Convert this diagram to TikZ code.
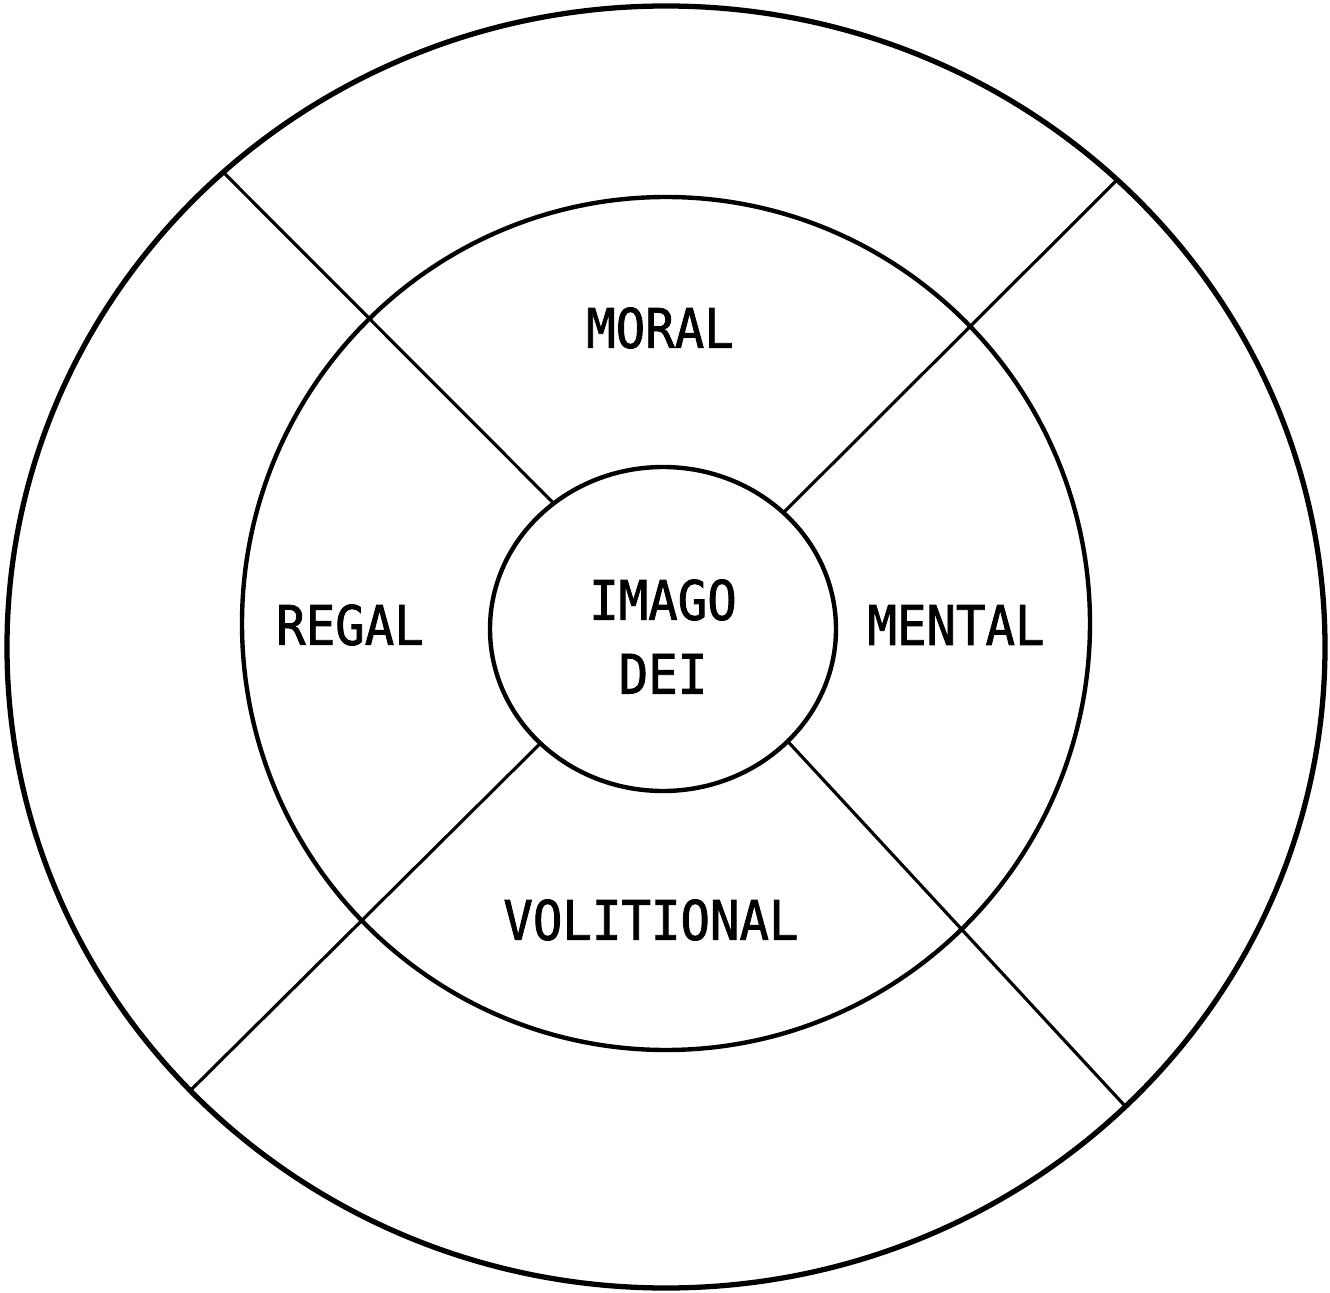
\documentclass[tikz,border=0pt]{standalone}
\usepackage{fontspec}
\setmonofont{DejaVu Sans Mono}[FakeStretch=0.9,FakeBold=1.5]
\usetikzlibrary{shapes.geometric}

\begin{document}
\begin{tikzpicture}[
    ring/.style={draw,ellipse,inner sep=0pt,outer sep=0pt,line width=1.25pt},
    spoke/.style={line width=0.9pt},
    word/.style={font=\ttfamily\fontsize{15.5}{21}\selectfont,align=center}]
  \useasboundingbox (0,0) rectangle (13.3,12.92);
  % three rings
  \node[ring,line width=1.5pt,minimum width=13.18cm,minimum height=12.82cm] (outer) at (6.66,6.45) {};
  \node[ring,minimum width=8.48cm,minimum height=8.53cm] (middle) at (6.66,6.685) {};
  \node[ring,minimum width=3.46cm,minimum height=3.24cm] (inner) at (6.63,6.63) {};
  % four spokes, outer ring to inner ring
  \draw[spoke] (outer.133) -- (inner.131);
  \draw[spoke] (outer.46) -- (inner.44);
  \draw[spoke] (outer.223) -- (inner.223);
  \draw[spoke] (outer.315) -- (inner.318);
  % labels
  \node[word] (imago) at (6.63,6.555) {IMAGO\\DEI};
  \node[word] (moral) at (6.60,9.64) {MORAL};
  \node[word] (regal) at (3.50,6.67) {REGAL};
  \node[word] (mental) at (9.56,6.67) {MENTAL};
  \node[word] (volitional) at (6.51,3.72) {VOLITIONAL};
\end{tikzpicture}
\end{document}
